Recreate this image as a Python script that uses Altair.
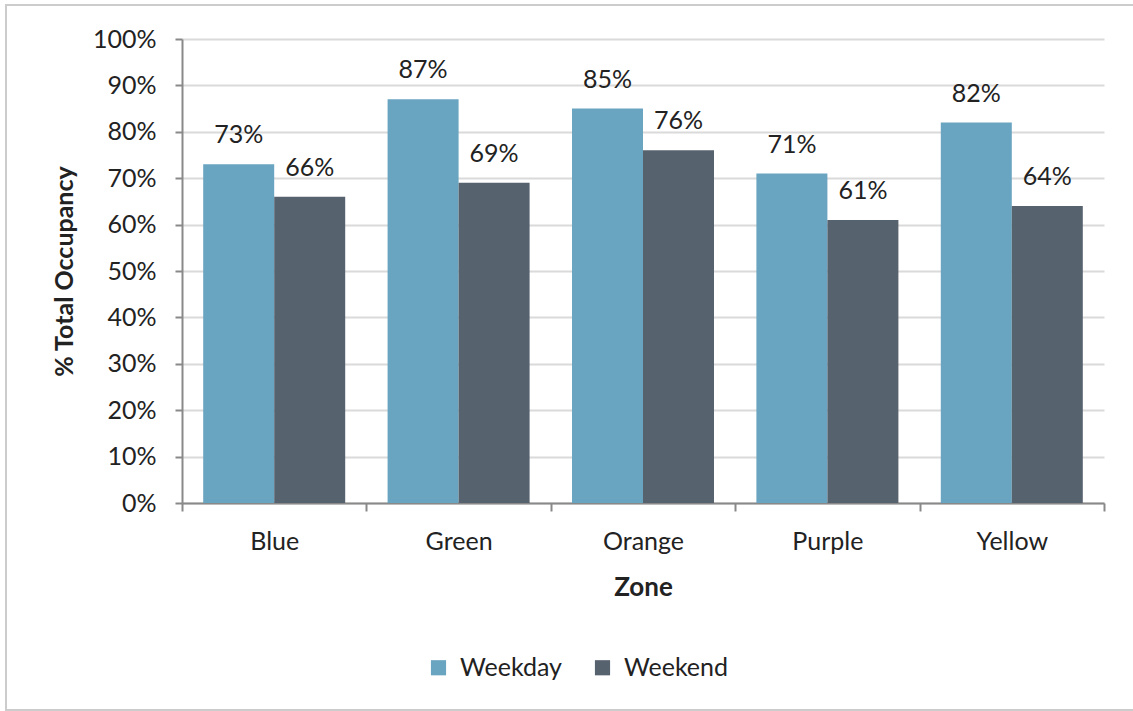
import altair as alt
import pandas as pd

# Occupancy share by zone, weekday vs weekend
zones = ["Blue", "Green", "Orange", "Purple", "Yellow"]
periods = ["Weekday", "Weekend"]
weekday = [73, 87, 85, 71, 82]
weekend = [66, 69, 76, 61, 64]
y_ticks = [i / 10 for i in range(11)]

rows = []
for z, wd, we in zip(zones, weekday, weekend):
    rows.append({"Zone": z, "Period": "Weekday", "Value": wd / 100})
    rows.append({"Zone": z, "Period": "Weekend", "Value": we / 100})
df = pd.DataFrame(rows)

FONT = "Lato"
TEXT = "#222222"
AXIS = "#898989"
W, H = 922, 464

x_enc = alt.X(
    "Zone:N",
    sort=zones,
    title="Zone",
    scale=alt.Scale(paddingInner=0, paddingOuter=0),
    axis=alt.Axis(
        tickBand="extent",
        labelAngle=0,
        labelFontSize=25,
        labelPadding=18,
        labelColor=TEXT,
        labelFont=FONT,
        titleFont=FONT,
        titleFontSize=26,
        titleFontWeight="bold",
        titleColor=TEXT,
        titlePadding=20,
        tickSize=8,
        tickColor=AXIS,
        tickWidth=2,
        domainColor=AXIS,
        domainWidth=2,
        grid=False,
    ),
)
xoff_enc = alt.XOffset(
    "Period:N", sort=periods, scale=alt.Scale(paddingInner=0, paddingOuter=0.2986)
)
y_enc = alt.Y(
    "Value:Q",
    title="% Total Occupancy",
    scale=alt.Scale(domain=[0, 1], nice=False),
    axis=alt.Axis(
        values=y_ticks,
        format=".0%",
        labelFontSize=25,
        labelColor=TEXT,
        labelFont=FONT,
        labelPadding=19,
        titleFont=FONT,
        titleFontSize=25,
        titleFontWeight="bold",
        titleColor=TEXT,
        titlePadding=15,
        tickSize=7,
        tickColor=AXIS,
        tickWidth=2,
        domainColor=AXIS,
        domainWidth=2,
        gridColor="#dadada",
        gridWidth=2,
    ),
)
color_enc = alt.Color(
    "Period:N",
    sort=periods,
    scale=alt.Scale(domain=periods, range=["#69A4C0", "#57626F"]),
    legend=alt.Legend(
        title=None,
        orient="none",
        legendX=244,
        legendY=616,
        direction="horizontal",
        symbolType="square",
        symbolSize=230,
        symbolStrokeWidth=0,
        symbolOpacity=1,
        labelFontSize=25,
        labelFont=FONT,
        labelColor=TEXT,
        labelOffset=9,
        columnPadding=28,
    ),
)

bars = alt.Chart(df).mark_bar(size=71).encode(
    x=x_enc, xOffset=xoff_enc, y=y_enc, color=color_enc
)

labels = alt.Chart(df).mark_text(
    font=FONT, fontSize=25, color=TEXT, baseline="alphabetic", dy=-21
).encode(
    x=alt.X("Zone:N", sort=zones),
    xOffset=alt.XOffset("Period:N", sort=periods),
    y="Value:Q",
    text=alt.Text("Value:Q", format=".0%"),
)

frame = alt.Chart(pd.DataFrame({"k": [0]})).mark_rect(
    fill=None, stroke="#cccccc", strokeWidth=2
).encode(
    x=alt.value(-176), x2=alt.value(W + 60), y=alt.value(-34), y2=alt.value(H + 207)
)

chart = (
    alt.layer(frame, bars, labels)
    .properties(
        width=W,
        height=H,
        padding={"left": 182, "top": 39, "right": 29, "bottom": 208},
        autosize=alt.AutoSizeParams(type="none"),
        background="white",
    )
    .configure_view(stroke=None)
)

chart.save("out.html", embed_options={"renderer": "svg", "actions": False})
